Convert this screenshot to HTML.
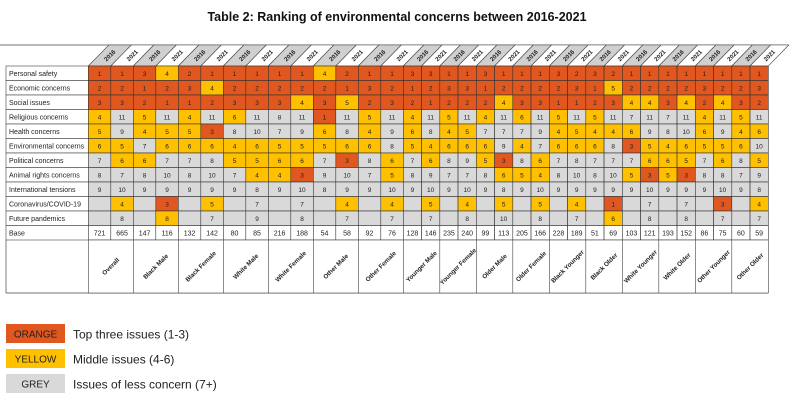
<!DOCTYPE html>
<html><head><meta charset="utf-8"><style>
body{margin:0;background:#fff;width:793px;height:409px;overflow:hidden;font-family:"Liberation Sans",sans-serif}
svg text{font-family:"Liberation Sans",sans-serif}
</style></head><body>
<svg id="tbl" width="793" height="409" xmlns="http://www.w3.org/2000/svg">
<text x="397" y="21" text-anchor="middle" font-size="12.5" font-weight="bold" fill="#111">Table 2: Ranking of environmental concerns between 2016-2021</text>
<g>
<rect x="6" y="324" width="59" height="19" fill="#E0571F"/>
<text x="35.5" y="337.5" text-anchor="middle" font-size="10" fill="#222">ORANGE</text>
<text x="73" y="338.5" font-size="12" fill="#222">Top three issues (1-3)</text>
<rect x="6" y="349" width="59" height="19" fill="#FFC000"/>
<text x="35.5" y="362.5" text-anchor="middle" font-size="10" fill="#222">YELLOW</text>
<text x="73" y="363.5" font-size="12" fill="#222">Middle issues (4-6)</text>
<rect x="6" y="374" width="59" height="19" fill="#D9D9D9"/>
<text x="35.5" y="387.5" text-anchor="middle" font-size="10" fill="#222">GREY</text>
<text x="73" y="388.5" font-size="12" fill="#222">Issues of less concern (7+)</text>
</g>
</svg>
<script>
const groups=["Overall","Black Male","Black Female","White Male","White Female","Other Male","Other Female","Younger Male","Younger Female","Older Male","Older Female","Black Younger","Black Older","White Younger","White Older","Other Younger","Other Older"];
const years=["2016","2021"];
const rowLabels=["Personal safety","Economic concerns","Social issues","Religious concerns","Health concerns","Environmental concerns","Political concerns","Animal rights concerns","International tensions","Coronavirus/COVID-19","Future pandemics"];
const personalSafety=[1,1,3,4,2,1,1,1,1,1,4,2,1,1,3,3,1,1,3,1,1,1,3,2,3,2,1,1,1,1,1,1,1,1];
const economic=[2,2,1,2,3,4,2,2,2,2,2,1,3,2,1,2,3,3,1,2,2,2,2,3,1,5,2,2,2,2,3,2,2,3];
const social=[3,3,2,1,1,2,3,3,3,4,3,5,2,3,2,1,2,2,2,4,3,3,1,1,2,3,4,4,3,4,2,4,3,2];
const religious=[4,11,5,11,4,11,6,11,8,11,1,11,5,11,4,11,5,11,4,11,6,11,5,11,5,11,7,11,7,11,4,11,5,11];
const health=[5,9,4,5,5,3,8,10,7,9,6,8,4,9,6,8,4,5,7,7,7,9,4,5,4,4,6,9,8,10,6,9,4,6];
const environmental=[6,5,7,6,6,6,4,6,5,5,5,6,6,8,5,4,6,6,6,9,4,7,6,6,6,8,3,5,4,6,5,5,6,10];
const political=[7,6,6,7,7,8,5,5,6,6,7,3,8,6,7,6,8,9,5,3,8,6,7,8,7,7,7,6,6,5,7,6,8,5];
const animal=[8,7,8,10,8,10,7,4,4,3,9,10,7,5,8,9,7,7,8,6,5,4,8,10,8,10,5,3,5,3,8,8,7,9];
const international=[9,10,9,9,9,9,9,8,9,10,8,9,9,10,9,10,9,10,9,8,9,10,9,9,9,9,9,10,9,9,9,10,9,8];
const covid=[null,4,null,3,null,5,null,7,null,7,null,4,null,4,null,5,null,4,null,5,null,5,null,4,null,1,null,7,null,7,null,3,null,4];
const pandemics=[null,8,null,8,null,7,null,9,null,8,null,7,null,7,null,7,null,8,null,10,null,8,null,7,null,6,null,8,null,8,null,7,null,7];
const base=[721,665,147,116,132,142,80,85,216,188,54,58,92,76,128,146,235,240,99,113,205,166,228,189,51,69,103,121,193,152,86,75,60,59];
const rows=[personalSafety,economic,social,religious,health,environmental,political,animal,international,covid,pandemics];
const NS="http://www.w3.org/2000/svg";
const svg=document.getElementById('tbl');
const X0=88.3,WA=22.5,NA=14,WB=18.25,Y0=66,RH=14.5,LX=6;
function colX(i){return i<NA?X0+i*WA:X0+NA*WA+(i-NA)*WB;}
function colW(i){return i<NA?WA:WB;}
const ncol=base.length;
const XR=colX(ncol);
function rowY(r){return Y0+r*RH;}
function fillFor(v,r,c){if(v==null)return "#D9D9D9";if(r===10&&c===3)return "#FFC000";return v<=3?"#E0571F":(v<=6?"#FFC000":"#D9D9D9");}
function mk(tag,attrs){const e=document.createElementNS(NS,tag);for(const k in attrs)e.setAttribute(k,attrs[k]);svg.appendChild(e);return e;}
// header tabs
mk('line',{x1:0,y1:45,x2:XR+20,y2:45,stroke:"#444","stroke-width":0.7});
for(let c=0;c<ncol;c++){
  const x=colX(c),w=colW(c),s=20.5;
  const p=mk('polygon',{points:`${x},${Y0} ${x+w},${Y0} ${x+w+s},45 ${x+s},45`,fill:c%2===0?"#D0D0D0":"#fff",stroke:"#444","stroke-width":0.6});
  
  
  const cx=x+w/2+s/2,cy=55.5;
  const t=mk('text',{x:cx,y:cy+2,"text-anchor":"middle","font-size":6,"font-weight":"bold",fill:"#222",transform:`rotate(-45 ${cx} ${cy})`});
  t.textContent=years[c%2];
  
  
}
// data rows
const allRows=rows.concat([base]);
const labels=rowLabels.concat(["Base"]);
for(let r=0;r<allRows.length;r++){
  const y=rowY(r);
  mk('rect',{x:LX,y:y,width:X0-LX,height:RH,fill:"#fff",stroke:"#444","stroke-width":0.6});
  const lt=mk('text',{x:LX+3,y:y+RH/2+2.6,"font-size":7,fill:"#222"});
  lt.textContent=labels[r];
  
  
  for(let c=0;c<ncol;c++){
    const v=allRows[r][c];
    const isBase=r===allRows.length-1;
    const cell=mk('rect',{x:colX(c),y:y,width:colW(c),height:RH,fill:isBase?"#fff":fillFor(v,r,c),stroke:"#333","stroke-width":0.6});
    
    
    if(v!=null){
      const t=mk('text',{x:colX(c)+colW(c)/2,y:y+RH/2+2.5,"text-anchor":"middle","font-size":isBase?7:6.5,fill:"#222"});
      t.textContent=v;
      
      
    }
  }
}
// group labels row
const gy=rowY(allRows.length),gh=53;
mk('line',{x1:LX,y1:gy+gh,x2:XR,y2:gy+gh,stroke:"#444","stroke-width":0.7});
mk('line',{x1:LX,y1:gy,x2:LX,y2:gy+gh,stroke:"#444","stroke-width":0.7});
for(let g=0;g<groups.length;g++){
  const x=colX(g*2),w=colX(g*2+2)-x;
  const gr=mk('rect',{x:x,y:gy,width:w,height:gh,fill:"#fff",stroke:"#444","stroke-width":0.6});
  
  
  const cx=x+w/2,cy=gy+gh/2;
  const t=mk('text',{x:cx,y:cy+2,"text-anchor":"middle","font-size":6.3,"font-weight":"bold",fill:"#222",transform:`rotate(-45 ${cx} ${cy})`});
  t.textContent=groups[g];
  
  
}
</script>
</body></html>
